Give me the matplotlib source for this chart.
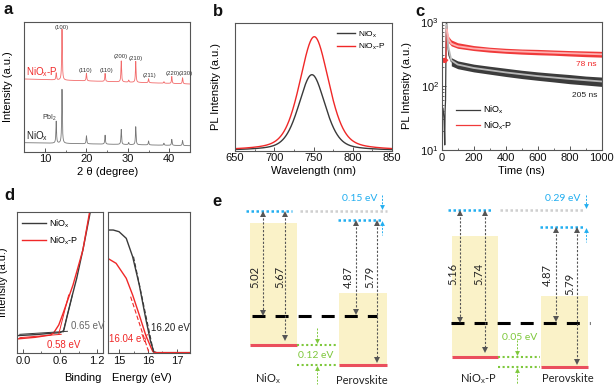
import numpy as np
import matplotlib
matplotlib.use('Agg')
import matplotlib.pyplot as plt
from matplotlib.ticker import MultipleLocator, LogLocator, NullFormatter
from matplotlib.patches import Rectangle

plt.rcParams['font.family'] = ['Liberation Sans', 'DejaVu Sans']
plt.rcParams['mathtext.fontset'] = 'custom'
plt.rcParams['mathtext.rm'] = 'Liberation Sans'
plt.rcParams['mathtext.it'] = 'Liberation Sans:italic'
plt.rcParams['mathtext.bf'] = 'Liberation Sans:bold'

NIO = 'NiO$_\\mathrm{x}$'
NIOP = 'NiO$_\\mathrm{x}$-P'

# ---------------- data ----------------
# (a) XRD
xrd_peaks = [12.7, 14.1, 20.0, 24.5, 28.4, 30.2, 31.9, 35.0, 38.7, 40.6, 43.2]
xrd_h_nio = [22, 54, 8, 9, 15, 2, 18, 4, 2, 6, 5]
xrd_h_niop = [7, 51, 7.7, 8, 21, 2, 21, 4, 1.5, 7, 6]
xrd_base_nio = [9, 6]
xrd_base_niop = [72.7, 67.7]
xrd_hkl = ['(100)', '(110)', '(110)', '(200)', '(210)', '(211)', '(220)', '(330)']

# (b) steady-state PL
pl_center = [748, 751]
pl_height = [76, 114]
pl_fwhm = [40, 44]

# (c) TRPL
c_t_nio = [0, 8, 15, 19, 21, 24, 27, 30, 35, 45, 60, 80, 100, 150, 200, 300, 400, 500, 600, 700, 800, 900, 1000]
c_y_nio = [35, 45, 30, 12, 40, 60, 400, 1000, 500, 300, 240, 225, 215, 200, 190, 175, 162, 150, 142, 135, 128, 122, 117]
c_band_t_nio = [60, 100, 200, 300, 400, 500, 600, 700, 800, 900, 1000]
c_lo_nio = [205, 185, 165, 152, 140, 130, 122, 115, 108, 103, 98]
c_hi_nio = [275, 245, 218, 202, 188, 175, 165, 157, 150, 142, 137]
c_fit_t_nio = [30, 40, 60, 100, 200, 400, 600, 800, 1000]
c_fit_nio = [900, 420, 250, 215, 190, 162, 142, 128, 117]
c_t_niop = [8, 15, 20, 24, 27, 30, 35, 45, 60, 80, 100, 150, 200, 300, 400, 500, 600, 700, 800, 900, 1000]
c_y_niop = [250, 245, 255, 250, 300, 850, 650, 520, 460, 430, 420, 400, 385, 365, 350, 340, 335, 330, 322, 315, 310]
c_band_t_niop = [40, 60, 100, 200, 300, 400, 500, 600, 700, 800, 900, 1000]
c_lo_niop = [480, 420, 385, 355, 335, 322, 312, 305, 300, 292, 285, 280]
c_hi_niop = [600, 520, 470, 425, 400, 385, 375, 370, 362, 355, 350, 345]
c_fit_t_niop = [32, 45, 60, 100, 200, 400, 600, 800, 1000]
c_fit_niop = [750, 520, 455, 415, 382, 350, 335, 322, 310]
c_tau = ['78 ns', '205 ns']

# (d) UPS
d_vb_x_nio = [-0.1, 0.2, 0.45, 0.6, 0.66, 0.72, 0.8, 0.87, 0.975, 1.08, 1.095]
d_vb_y_nio = [53, 56, 60, 62, 68, 115, 175, 225, 315, 415, 430]
d_vb_x_niop = [-0.1, 0.2, 0.45, 0.5, 0.58, 0.65, 0.81, 0.97, 1.07, 1.085]
d_vb_y_niop = [43, 48, 55, 62, 85, 120, 205, 310, 415, 430]
d_edge = [0.65, 0.58]
d_co_x_nio = [14.65, 14.8, 15.0, 15.25, 15.47, 15.7, 15.92, 16.09, 16.2, 16.3, 17.45]
d_co_y_nio = [370, 370, 365, 345, 290, 205, 105, 35, 5, 2, 2]
d_co_x_niop = [14.65, 14.9, 15.25, 15.47, 15.7, 15.92, 16.09, 16.17, 16.25, 17.45]
d_co_y_niop = [283, 270, 225, 175, 115, 55, 20, 5, 2, 2]
d_cutoff = [16.20, 16.04]

# (e) energy levels
e_htl_names = [NIO, NIOP]
e_htl_wf = [5.02, 5.16]
e_htl_vb = [5.67, 5.74]
e_pvk_wf = [4.87, 4.87]
e_pvk_vb = [5.79, 5.79]

# ---------------- figure ----------------
W, H = 615, 388
fig = plt.figure(figsize=(6.15, 3.88), dpi=100)

def box(l, t, r, b):
    return [l / W, 1 - b / H, (r - l) / W, (b - t) / H]

def style(ax):
    ax.tick_params(direction='in', length=3, width=0.7, labelsize=8, pad=2,
                   color='#555555', labelcolor='#111111')
    ax.tick_params(which='minor', direction='in', length=1.7, width=0.6, color='#555555')
    for s in ax.spines.values():
        s.set_color('#555555')
        s.set_linewidth(0.8)

BLK = '#3a3a3a'
RED = '#f02828'

# ---- a ----
axa = fig.add_axes(box(24.3, 21.7, 190, 151.7))
style(axa)
xx = np.linspace(5, 45, 4001)

def xrd(heights, base):
    y = base[0] + (base[1] - base[0]) * (xx - 5) / 40
    for p, h in zip(xrd_peaks, heights):
        y = y + h / (1 + ((xx - p) / 0.09) ** 2)
    return y

axa.plot(xx, xrd(xrd_h_nio, xrd_base_nio), color='#777777', lw=0.6)
axa.plot(xx, xrd(xrd_h_niop, xrd_base_niop), color='#f26a6a', lw=0.6)
axa.set_xlim(5, 45)
axa.set_ylim(0, 130)
axa.set_yticks([])
axa.xaxis.set_major_locator(MultipleLocator(10))
axa.xaxis.set_minor_locator(MultipleLocator(5))
axa.set_xlabel('2 θ (degree)', fontsize=8, labelpad=2)
axa.set_ylabel('Intensity (a.u.)', fontsize=8)
axa.yaxis.set_label_coords(-0.068, 0.5)
hkl_pos = [(14.1, 124.7), (19.7, 81.3), (24.8, 81.3), (28.3, 95.3), (32.0, 93), (35.3, 76.7), (40.75, 78.7), (43.95, 78)]
for lab, (px, py) in zip(xrd_hkl, hkl_pos):
    axa.text(px, py, lab, fontsize=4.3, ha='center', va='center', color='#333333')
axa.text(11.2, 33.7, 'PbI$_2$', fontsize=5, ha='center', va='center', color='#333333')
axa.text(5.3, 80, NIOP, fontsize=7, color=RED, ha='left', va='center')
axa.text(5.3, 16, NIO, fontsize=7, color='#222222', ha='left', va='center')

# ---- b ----
axb = fig.add_axes(box(235, 22.7, 392, 150.7))
style(axb)
wl = np.linspace(650, 850, 801)
for c0, h0, fw, col, lab in zip(pl_center, pl_height, pl_fwhm, [BLK, RED], [NIO, NIOP]):
    g = np.exp(-4 * np.log(2) * ((wl - c0) / fw) ** 2)
    lo = 1 / (1 + (2 * (wl - c0) / fw) ** 2)
    axb.plot(wl, h0 * (0.6 * g + 0.4 * lo), color=col, lw=1.0, label=lab)
axb.set_xlim(650, 850)
axb.set_ylim(0, 128)
axb.set_yticks([])
axb.xaxis.set_major_locator(MultipleLocator(50))
axb.xaxis.set_minor_locator(MultipleLocator(25))
axb.set_xlabel('Wavelength (nm)', fontsize=8, labelpad=2)
axb.set_ylabel('PL Intensity (a.u.)', fontsize=8)
axb.yaxis.set_label_coords(-0.089, 0.5)
axb.legend(loc='upper right', fontsize=6, frameon=False, handlelength=2.2,
           handletextpad=0.3, labelspacing=0.3, borderaxespad=0.4)

# ---- c ----
axc = fig.add_axes(box(441.7, 21.7, 601.7, 150))
style(axc)
axc.fill_between(c_band_t_nio, c_lo_nio, c_hi_nio, color='#3c3c3c', lw=0)
axc.plot(c_t_nio, c_y_nio, color='#3c3c3c', lw=0.9, label=NIO)
axc.fill_between(c_band_t_niop, c_lo_niop, c_hi_niop, color='#f03a3a', lw=0)
axc.plot(c_t_niop, c_y_niop, color='#f03a3a', lw=0.9, label=NIOP)
axc.plot(c_t_niop[:4], c_y_niop[:4], color='#f03a3a', lw=3)
axc.plot(c_fit_t_nio, c_fit_nio, color='#b8b8b8', lw=1.3)
axc.plot(c_fit_t_niop, c_fit_niop, color='#ffb0b0', lw=1.3)
axc.set_yscale('log')
axc.set_ylim(10, 1000)
axc.set_xlim(0, 1000)
axc.xaxis.set_major_locator(MultipleLocator(200))
axc.xaxis.set_minor_locator(MultipleLocator(100))
axc.yaxis.set_minor_locator(LogLocator(base=10, subs=np.arange(2, 10)))
axc.yaxis.set_minor_formatter(NullFormatter())
axc.set_xlabel('Time (ns)', fontsize=8, labelpad=2)
axc.set_ylabel('PL Intensity (a.u.)', fontsize=8)
axc.yaxis.set_label_coords(-0.186, 0.5)
axc.text(906, 216, c_tau[0], fontsize=6, color=RED, ha='center', va='center')
axc.text(892, 72, c_tau[1], fontsize=6, color='#222222', ha='center', va='center')
axc.legend(handles=axc.lines[:2], labels=[NIO, NIOP], loc='lower left', fontsize=6.5,
           frameon=False, handlelength=2.6, handletextpad=0.4, labelspacing=0.3,
           bbox_to_anchor=(0.04, 0.08))

# ---- d ----
axd1 = fig.add_axes(box(16.7, 211.7, 103.3, 353.3))
axd2 = fig.add_axes(box(108.3, 211.7, 190, 353.3))
for ax in (axd1, axd2):
    style(ax)
    ax.set_ylim(0, 425)
    ax.set_yticks([])
axd1.plot(d_vb_x_nio, d_vb_y_nio, color=BLK, lw=1.0, label=NIO)
axd1.plot(d_vb_x_niop, d_vb_y_niop, color=RED, lw=1.0, label=NIOP)
axd1.plot([-0.05, 0.72], [57, 66], color=BLK, lw=0.7)
axd1.plot([d_edge[0], 0.8], [64, 175], color=BLK, lw=0.7)
axd1.plot([-0.05, 0.62], [47, 57], color=RED, lw=0.7)
axd1.plot([d_edge[1], 0.74], [58, 175], color=RED, lw=0.7)
axd1.set_xlim(-0.1, 1.3)
axd1.set_xticks([0.0, 0.6, 1.2])
axd1.set_xticklabels(['0.0', '0.6', '1.2'])
axd1.xaxis.set_minor_locator(MultipleLocator(0.3))
axd1.text(0.78, 82, f'{d_edge[0]:.2f} eV', fontsize=7, color='#666666', ha='left', va='center')
axd1.text(0.39, 25, f'{d_edge[1]:.2f} eV', fontsize=7, color=RED, ha='left', va='center')
axd1.legend(loc='upper left', fontsize=6.5, frameon=False, handlelength=2.6,
            handletextpad=0.4, labelspacing=0.5, borderaxespad=0.2)
axd1.set_ylabel('Intensity (a.u.)', fontsize=7.8)
axd1.yaxis.set_label_coords(-0.095, 0.5)

axd2.plot(d_co_x_nio, d_co_y_nio, color=BLK, lw=1.0)
axd2.plot(d_co_x_niop, d_co_y_niop, color=RED, lw=1.0)
axd2.plot([15.5, d_cutoff[0]], [290, 0], color=BLK, lw=0.8, ls=(0, (4, 2)))
axd2.plot([15.4, d_cutoff[1]], [170, 0], color=RED, lw=0.8, ls=(0, (4, 2)))
axd2.set_xlim(14.63, 17.45)
axd2.xaxis.set_major_locator(MultipleLocator(1))
axd2.xaxis.set_minor_locator(MultipleLocator(0.5))
axd2.text(16.12, 75, f'{d_cutoff[0]:.2f} eV', fontsize=7, color='#222222', ha='left', va='center')
axd2.text(14.67, 43, f'{d_cutoff[1]:.2f} eV', fontsize=7, color=RED, ha='left', va='center')
fig.text(82.5 / W, 1 - 378 / H, 'Binding', fontsize=8, ha='center', va='center')
fig.text(142 / W, 1 - 378 / H, 'Energy (eV)', fontsize=8, ha='center', va='center')

# ---- e (schematic, pixel layout) ----
ov = fig.add_axes([0, 0, 1, 1])
ov.set_xlim(0, W)
ov.set_ylim(H, 0)
ov.axis('off')

e_layout = [
    dict(hx=(250, 297), px=(339, 387), vac_h=210.7, vac_p=220, fermi=315.5, vb_h=345, vb_p=364.5,
         top_h=223, top_p=293, ax_h=(262.7, 285), ax_p=(356, 376.7), f_x=(252, 377),
         gray_x=(300, 387), sh_x=382, gr_x=317, lab_h=((254.5, 277), (280, 277)),
         lab_p=((348.5, 277), (370, 277)), sh_text=(377, 198.5), gr_text=(316, 356),
         name_h=(268, 379), name_p=(362, 380)),
    dict(hx=(452, 498), px=(541, 588), vac_h=210, vac_p=227, fermi=323, vb_h=357, vb_p=366.5,
         top_h=236, top_p=296, ax_h=(460, 485), ax_p=(556, 577), f_x=(451, 590),
         gray_x=(500, 583), sh_x=586, gr_x=517, lab_h=((452.5, 274), (479, 274)),
         lab_p=((547.5, 275), (570, 284)), sh_text=(580, 198.5), gr_text=(520, 337),
         name_h=(478, 379), name_p=(568, 379)),
]
YEL = '#faf2c8'
EDGE_RED = '#ea4f5d'
CYAN = '#22aef0'
GRN = '#7ec83c'
GRY = '#555555'
EF = ['Lato', 'DejaVu Sans']

def varrow(x, y0, y1, color, lw=0.8):
    ov.plot([x, x], [y0, y1], color=color, lw=lw, ls=(0, (2, 1.5)))

def head(x, y, up, color, ms=4):
    ov.plot([x], [y + (2 if up else -2)], marker='^' if up else 'v', color=color,
            ms=ms, mew=0, ls='none')

for i, L in enumerate(e_layout):
    hx0, hx1 = L['hx']
    px0, px1 = L['px']
    ov.add_patch(Rectangle((hx0, L['top_h']), hx1 - hx0, L['vb_h'] - L['top_h'], color=YEL, lw=0, zorder=0))
    ov.add_patch(Rectangle((px0, L['top_p']), px1 - px0, L['vb_p'] - L['top_p'], color=YEL, lw=0, zorder=0))
    ov.plot([hx0, hx1], [L['vb_h']] * 2, color=EDGE_RED, lw=2.2, solid_capstyle='butt')
    ov.plot([px0, px1], [L['vb_p']] * 2, color=EDGE_RED, lw=2.2, solid_capstyle='butt')
    # vacuum levels
    ov.plot([hx0 - 4, hx1 - 5], [L['vac_h']] * 2, color=CYAN, lw=1.8, ls=(0, (1, 1)))
    ov.plot(list(L['gray_x']), [L['vac_h']] * 2, color='#cfcfcf', lw=1.8, ls=(0, (1, 1)))
    ov.plot([px0 - 1, px1 - 4], [L['vac_p']] * 2, color=CYAN, lw=1.8, ls=(0, (1, 1)))
    # fermi level
    ov.plot(list(L['f_x']), [L['fermi']] * 2, color='black', lw=2.2, dashes=(4.25, 3.3))
    # green VB offset lines
    ov.plot([hx1, px0 - 1], [L['vb_h']] * 2, color=GRN, lw=1.5, ls=(0, (1, 1.2)))
    ov.plot([hx1, px0 - 1], [L['vb_p']] * 2, color=GRN, lw=1.5, ls=(0, (1, 1.2)))
    # gray double arrows
    arrows = [(L['ax_h'][0], L['vac_h'], L['fermi'] - 1), (L['ax_h'][1], L['vac_h'], L['vb_h'] - 5),
              (L['ax_p'][0], L['vac_p'], L['fermi'] - 2), (L['ax_p'][1], L['vac_p'], L['vb_p'] - 3)]
    for ax_x, ya, yb in arrows:
        varrow(ax_x, ya + 3, yb - 3, GRY)
        head(ax_x, ya + 1, True, GRY)
        head(ax_x, yb, False, GRY)
    vals = [e_htl_wf[i], e_htl_vb[i]]
    for (tx, ty), v in zip(L['lab_h'], vals):
        ov.text(tx, ty, f'{v:.2f}', rotation=90, fontsize=8, ha='center', va='center', family=EF, color='#222222')
    vals = [e_pvk_wf[i], e_pvk_vb[i]]
    for (tx, ty), v in zip(L['lab_p'], vals):
        ov.text(tx, ty, f'{v:.2f}', rotation=90, fontsize=8, ha='center', va='center', family=EF, color='#222222')
    # vacuum shift arrows
    sx = L['sh_x']
    varrow(sx, 195, L['vac_h'] - 4, CYAN, lw=0.7)
    head(sx, L['vac_h'] - 2, False, CYAN, ms=3.5)
    varrow(sx, L['vac_p'] + 4, L['vac_p'] + 15, CYAN, lw=0.7)
    head(sx, L['vac_p'] + 1, True, CYAN, ms=3.5)
    shift = e_htl_wf[i] - e_pvk_wf[i]
    ov.text(L['sh_text'][0], L['sh_text'][1], f'{shift:.2f} eV', fontsize=7.5, color=CYAN,
            ha='right', va='center', family=EF)
    # green offset arrows
    gx = L['gr_x']
    varrow(gx, L['vb_h'] - 17, L['vb_h'] - 4, GRN, lw=0.7)
    head(gx, L['vb_h'] - 2, False, GRN, ms=3.5)
    varrow(gx, L['vb_p'] + 4, 384, GRN, lw=0.7)
    head(gx, L['vb_p'] + 1, True, GRN, ms=3.5)
    off = e_pvk_vb[i] - e_htl_vb[i]
    ov.text(L['gr_text'][0], L['gr_text'][1], f'{off:.2f} eV', fontsize=7.5, color=GRN,
            ha='center', va='center', family=EF)
    ov.text(L['name_h'][0], L['name_h'][1], e_htl_names[i], fontsize=8, ha='center', va='center',
            family=EF, color='#222222')
    ov.text(L['name_p'][0], L['name_p'][1], 'Perovskite', fontsize=8, ha='center', va='center',
            family=EF, color='#222222')

# panel letters
for lab, (lx, ly) in zip('abcde', [(4, 10), (213, 11), (415, 11), (4, 196), (212, 201)]):
    ov.text(lx, ly, lab, fontsize=12, fontweight='bold', ha='left', va='center', color='#111111')

fig.savefig('out.png', dpi=100)
